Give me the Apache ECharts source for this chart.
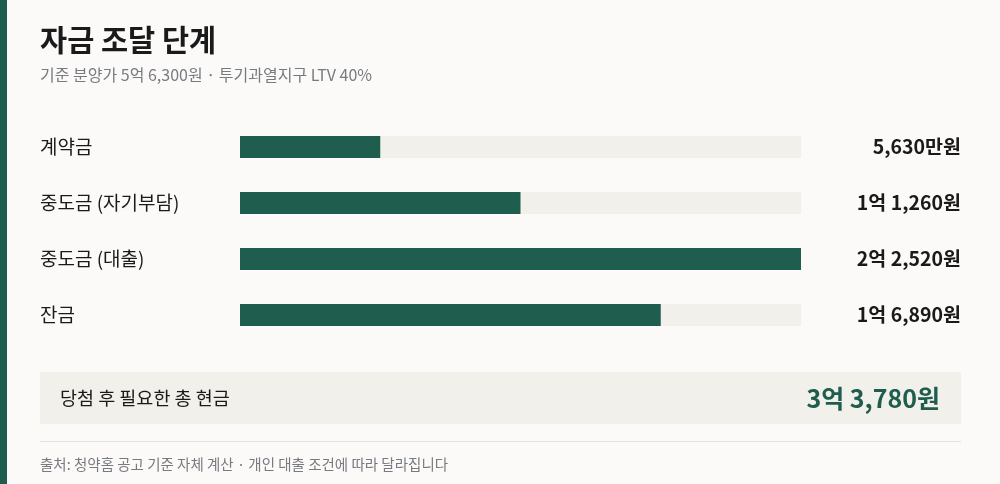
<!DOCTYPE html>
<html><head><meta charset="utf-8">
<script src="https://cdn.jsdelivr.net/npm/echarts@6/dist/echarts.min.js"></script>
<style>html,body{margin:0;background:#fbfaf8}#c{width:1000px;height:484px}</style>
</head><body><div id="c"></div>
<script>
// 자금 조달 단계
const stages = ['계약금', '중도금 (자기부담)', '중도금 (대출)', '잔금'];
const amounts = [5630, 11260, 22520, 16890]; // 만원
const amountLabels = ['5,630만원', '1억 1,260원', '2억 2,520원', '1억 6,890원'];
const totalLabel = '3억 3,780원';

const green = '#1f5e4e';
const font = '"Noto Sans CJK KR", "Noto Sans", sans-serif';
const chart = echarts.init(document.getElementById('c'));

chart.setOption({
  backgroundColor: '#fbfaf8',
  textStyle: { fontFamily: font },
  grid: { left: 240, right: 199, top: 119, bottom: 141 },
  xAxis: { type: 'value', min: 0, max: 22520, show: false },
  yAxis: [
    {
      type: 'category', data: stages, inverse: true,
      axisLine: { show: false }, axisTick: { show: false },
      axisLabel: { align: 'left', margin: 200, color: '#1a1a1a', fontSize: 19, fontFamily: font }
    },
    {
      type: 'category', data: amountLabels, inverse: true, position: 'right',
      axisLine: { show: false }, axisTick: { show: false },
      axisLabel: { align: 'right', margin: 160, color: '#1a1a1a', fontSize: 19.5, fontWeight: 'bold', fontFamily: font }
    }
  ],
  series: [{
    type: 'bar', data: amounts, barWidth: 22,
    itemStyle: { color: green },
    showBackground: true,
    backgroundStyle: { color: '#f1f0eb' },
    silent: true
  }],
  graphic: [
    { type: 'rect', shape: { x: 0, y: 0, width: 7, height: 484 }, style: { fill: green } },
    { type: 'text', left: 40, top: 25, style: { text: '자금 조달 단계', font: 'bold 29.5px ' + font, fill: '#1a1a1a' } },
    { type: 'text', left: 40, top: 67, style: { text: '기준 분양가 5억 6,300원 · 투기과열지구 LTV 40%', font: '16px ' + font, fill: '#777b80' } },
    { type: 'rect', shape: { x: 40, y: 372, width: 921, height: 52 }, style: { fill: '#f1f0eb' } },
    { type: 'text', x: 60, y: 398, style: { text: '당첨 후 필요한 총 현금', font: '18.5px ' + font, fill: '#1a1a1a', textVerticalAlign: 'middle' } },
    { type: 'text', x: 940, y: 398, style: { text: totalLabel, font: 'bold 25px ' + font, fill: green, textAlign: 'right', textVerticalAlign: 'middle' } },
    { type: 'rect', shape: { x: 40, y: 441, width: 921, height: 1 }, style: { fill: '#e3e2de' } },
    { type: 'text', x: 40, y: 464, style: { text: '출처: 청약홈 공고 기준 자체 계산 · 개인 대출 조건에 따라 달라집니다', font: '14.5px ' + font, fill: '#777b80', textVerticalAlign: 'middle' } }
  ]
});
</script></body></html>
